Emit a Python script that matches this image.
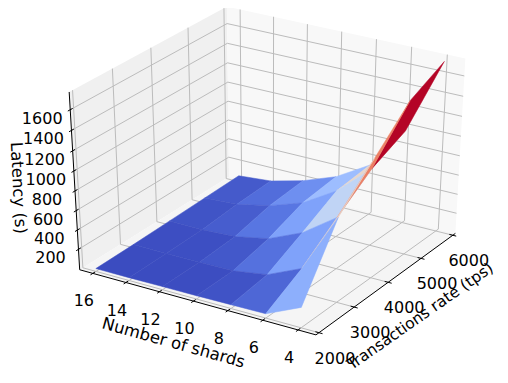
import numpy as np, pandas as pd, altair as alt

tps_vals = [2000, 3000, 4000, 5000, 6000]
shard_vals = [16, 14, 12, 10, 8, 6, 4]
lat_2000 = [15, 15, 18, 20, 25, 30, 195]
lat_3000 = [20, 18, 20, 25, 80, 240, 850]
lat_4000 = [30, 25, 45, 115, 270, 520, 1200]
lat_5000 = [40, 60, 135, 255, 470, 785, 1545]
lat_6000 = [50, 80, 170, 300, 510, 950, 1720]
lat = np.array([lat_2000, lat_3000, lat_4000, lat_5000, lat_6000], float)
tps_ticks = [2000, 3000, 4000, 5000, 6000]
shard_ticks = [4, 6, 8, 10, 12, 14, 16]
lat_ticks = [200, 400, 600, 800, 1000, 1200, 1400, 1600]
coolwarm = ["#3b4cc0", "#5977e3", "#7b9ff9", "#9ebeff", "#c0d4f5", "#dddcdc",
            "#f2cbb7", "#f7ac8e", "#ee8468", "#d65244", "#b40426"]

# view of the 3D box
ELEV, AZIM, DIST = 32.0, -148.0, 10.0
SX, OX, SY, OY = 2798.16, 270.0, -2077.83, 165.5
xr, yr, zr = (1917, 6083), (3.0, 16.8), (-15, 1770)

el, az = np.radians(ELEV), np.radians(AZIM)
R = np.array([.5, .5, .5])
n = np.array([np.cos(el) * np.cos(az), np.sin(az) * np.cos(el), np.sin(el)])
E = R + DIST * n
u = np.cross([0, 0, 1], n); u /= np.linalg.norm(u)
v = np.cross(n, u)

def norm3(x, y, z):
    return np.array([(x - xr[0]) / (xr[1] - xr[0]), (y - yr[0]) / (yr[1] - yr[0]), (z - zr[0]) / (zr[1] - zr[0])])

def depth(x, y, z):
    return float(-((norm3(x, y, z) - E) @ n))

def proj(x, y, z):
    q = norm3(x, y, z) - E
    w = -(q @ n)
    return float((q @ u) / w * SX + OX), float((q @ v) / w * SY + OY)

def paths(items):
    rows = []
    for i, (pts, extra) in enumerate(items):
        for j, p in enumerate(pts):
            a, b = proj(*p)
            rows.append(dict(px=a, py=b, g=i, o=j, **extra))
    return pd.DataFrame(rows)

X = alt.X("px:Q", scale=alt.Scale(domain=[8, 500], zero=False, nice=False), axis=None)
Y = alt.Y("py:Q", scale=alt.Scale(domain=[375, 8], zero=False, nice=False), axis=None)

x0, x1, y0, y1, z0, z1 = xr[0], xr[1], yr[0], yr[1], zr[0], zr[1]

panes = paths([
    ([(x0, y1, z0), (x1, y1, z0), (x1, y1, z1), (x0, y1, z1), (x0, y1, z0)], dict(c="#f0f0f0")),
    ([(x1, y0, z0), (x1, y1, z0), (x1, y1, z1), (x1, y0, z1), (x1, y0, z0)], dict(c="#f8f8f8")),
    ([(x0, y0, z0), (x1, y0, z0), (x1, y1, z0), (x0, y1, z0), (x0, y0, z0)], dict(c="#f5f5f5")),
])
pane_layer = alt.Chart(panes).mark_line(strokeWidth=0).encode(
    x=X, y=Y, order="o:Q", detail="g:N", fill=alt.Fill("c:N", scale=None))

grid_items = []
for t in tps_ticks:
    grid_items.append(([(t, y0, z0), (t, y1, z0), (t, y1, z1)], {}))
for s in shard_ticks:
    grid_items.append(([(x0, s, z0), (x1, s, z0), (x1, s, z1)], {}))
for h in lat_ticks:
    grid_items.append(([(x0, y1, h), (x1, y1, h), (x1, y0, h)], {}))
grid_layer = alt.Chart(paths(grid_items)).mark_line(color="#bcbcbc", strokeWidth=1).encode(
    x=X, y=Y, order="o:Q", detail="g:N")

axis_items = [
    ([(x0, y1, z1), (x0, y1, z0), (x0, y0, z0), (x1, y0, z0)], {}),
]
for t in tps_ticks:
    axis_items.append(([(t, y0 + 0.2, z0), (t, y0 - 0.2, z0)], {}))
for s in shard_ticks:
    axis_items.append(([(x0 + 60, s, z0), (x0 - 60, s, z0)], {}))
for h in lat_ticks:
    axis_items.append(([(x0 + 60, y1, h), (x0 - 60, y1, h)], {}))
axis_layer = alt.Chart(paths(axis_items)).mark_line(color="black", strokeWidth=1).encode(
    x=X, y=Y, order="o:Q", detail="g:N")

faces = []
for i in range(len(tps_vals) - 1):
    for j in range(len(shard_vals) - 1):
        corners = [(tps_vals[i], shard_vals[j], lat[i, j]), (tps_vals[i + 1], shard_vals[j], lat[i + 1, j]),
                   (tps_vals[i + 1], shard_vals[j + 1], lat[i + 1, j + 1]), (tps_vals[i], shard_vals[j + 1], lat[i, j + 1])]
        mean_z = float(np.mean([c[2] for c in corners]))
        d = float(np.mean([depth(*c) for c in corners]))
        faces.append((d, corners, mean_z))
faces.sort(key=lambda f: -f[0])
means = [f[2] for f in faces]
surface = paths([(f[1] + [f[1][0]], dict(m=f[2])) for f in faces])
dom = list(np.linspace(min(means), max(means), len(coolwarm)))
cs = alt.Scale(domain=dom, range=coolwarm, interpolate="rgb")
surface_layer = alt.Chart(surface).mark_line(strokeWidth=0.5).encode(
    x=X, y=Y, order="o:Q", detail="g:N",
    fill=alt.Fill("m:Q", scale=cs, legend=None),
    stroke=alt.Stroke("m:Q", scale=cs, legend=None))

def labels(items, off, fontSize=16, **kw):
    rows = []
    for p, t in items:
        a, b = proj(*p)
        rows.append(dict(px=a + off[0], py=b + off[1], t=t))
    return alt.Chart(pd.DataFrame(rows)).mark_text(font="DejaVu Sans", fontSize=fontSize, color="black", **kw).encode(
        x=X, y=Y, text="t:N")

text_layers = [
    labels([((x0, y1, h), str(h)) for h in lat_ticks], (-28, 9)),
    labels([((x0, s, z0), str(s)) for s in shard_ticks], (-9, 28)),
    labels([((t, y0, z0), str(t)) for t in tps_ticks], (16, 26)),
    labels([((x0, 10, z0), "Number of shards")], (-20, 42), fontSize=16.5, angle=15.6),
    labels([((4000, y0, z0), "Transactions rate (tps)")], (32, 34), fontSize=15.5, angle=325),
    labels([((x0, y1, 800), "Latency (s)")], (-57, -3), fontSize=16.5, angle=87),
]

chart = alt.layer(pane_layer, grid_layer, axis_layer, surface_layer, *text_layers).resolve_scale(
    fill="independent", stroke="independent"
).properties(width=492, height=367, padding=0, autosize=alt.AutoSizeParams(type="none")).configure_view(stroke=None)

chart.save("out.html", embed_options={"renderer": "svg", "actions": False})
